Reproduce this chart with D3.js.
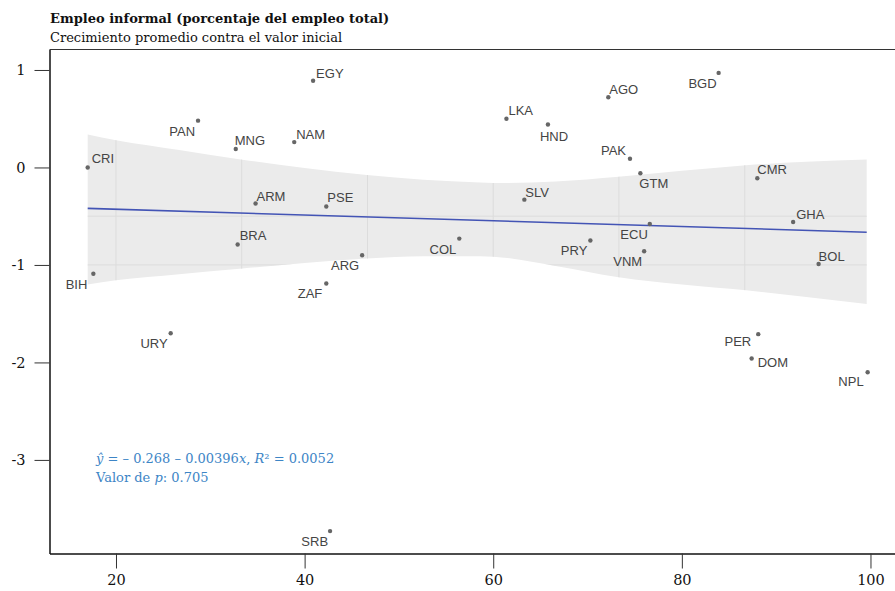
<!DOCTYPE html>
<html>
<head>
<meta charset="utf-8">
<script src="https://cdn.jsdelivr.net/npm/d3@7/dist/d3.min.js"></script>
<style>
body { margin: 0; background: #fff; }
</style>
</head>
<body>
<div id="chart"></div>
<script>
// countries, initial informal employment share (x) and average growth (y)
var codes   = ["EGY","PAN","MNG","NAM","CRI","ARM","PSE","BRA","COL","ARG","ZAF","BIH","URY","SRB",
               "LKA","AGO","BGD","HND","PAK","GTM","CMR","SLV","GHA","ECU","PRY","VNM","BOL","PER","DOM","NPL"];
var initial = [40.9, 28.7, 32.7, 38.9, 17.0, 34.8, 42.3, 32.9, 56.4, 46.1, 42.3, 17.6, 25.8, 42.7,
               61.4, 72.2, 83.9, 65.8, 74.5, 75.6, 88.0, 63.3, 91.8, 76.6, 70.3, 76.0, 94.5, 88.1, 87.4, 99.7];
var growth  = [0.89, 0.48, 0.19, 0.26, 0.00, -0.37, -0.40, -0.79, -0.73, -0.90, -1.19, -1.09, -1.70, -3.73,
               0.50, 0.72, 0.97, 0.44, 0.09, -0.06, -0.11, -0.33, -0.56, -0.58, -0.75, -0.86, -0.99, -1.71, -1.96, -2.10];

// fitted line and its confidence band
var fitX   = [17.0, 99.6];
var fitY   = [-0.42, -0.664];
var bandX  = [17.0, 20, 26.7, 33.4, 40, 46.6, 52.6, 58.6, 60, 66.6, 73.3, 80, 86.8, 93.2, 99.6];
var bandHi = [0.338, 0.280, 0.18, 0.08, -0.005, -0.078, -0.125, -0.154, -0.160, -0.145, -0.096, -0.035, 0.023, 0.058, 0.082];
var bandLo = [-1.20, -1.157, -1.095, -1.036, -0.98, -0.934, -0.912, -0.910, -0.915, -1.01, -1.125, -1.20, -1.259, -1.33, -1.40];
var gridX  = [20, 33.33, 46.67, 60, 73.33, 86.67];
var gridY  = [-0.5, -1];

var xTicks = [20, 40, 60, 80, 100];
var yTicks = [1, 0, -1, -2, -3];

var title = "Empleo informal (porcentaje del empleo total)";
var subtitle = "Crecimiento promedio contra el valor inicial";

// label placement around each dot: dx, dy, anchor
var labelPos = {
  EGY: [3, -3, "start"],  PAN: [-3, 15, "end"],   MNG: [-1, -4, "start"], NAM: [2, -3, "start"],
  CRI: [4, -4, "start"],  ARM: [1, -3, "start"],  PSE: [1, -4, "start"],  BRA: [2, -4, "start"],
  COL: [-3, 15, "end"],   ARG: [-3, 15, "end"],   ZAF: [-4, 15, "end"],   BIH: [-6, 15, "end"],
  URY: [-3, 15, "end"],   SRB: [-2, 15, "end"],   LKA: [2, -4, "start"],  AGO: [1, -3, "start"],
  BGD: [-2, 15, "end"],   HND: [-8, 16, "start"], PAK: [-4, -4, "end"],   GTM: [-1, 15, "start"],
  CMR: [0, -4, "start"],  SLV: [1, -3, "start"],  GHA: [3, -3, "start"],  ECU: [-2, 15, "end"],
  PRY: [-3, 14, "end"],   VNM: [-2, 15, "end"],   BOL: [0, -3, "start"],  PER: [-7, 12, "end"],
  DOM: [6, 8, "start"],   NPL: [-4, 14, "end"]
};

var W = 895, H = 591;
var plotL = 49.5, plotR = 895, plotT = 49.5, plotB = 553.5;

var svg = d3.select("#chart").append("svg")
    .attr("width", W)
    .attr("height", H)
    .style("font-family", "'DejaVu Serif', serif");

var x = d3.scaleLinear().domain([12.95, 102.6]).range([plotL, plotR]);
var y = d3.scaleLinear().domain([-3.96, 1.21]).range([plotB, plotT]);

// titles
svg.append("text")
    .attr("x", 50).attr("y", 23)
    .style("font-size", "13px").style("font-weight", "bold").attr("fill", "#111")
    .text(title);
svg.append("text")
    .attr("x", 50).attr("y", 42)
    .style("font-size", "13px").attr("fill", "#111")
    .text(subtitle);

// confidence band
var band = bandX.map(function(d, i) { return {x: d, hi: bandHi[i], lo: bandLo[i]}; });
var area = d3.area()
    .x(function(d) { return x(d.x); })
    .y0(function(d) { return y(d.lo); })
    .y1(function(d) { return y(d.hi); })
    .curve(d3.curveMonotoneX);

svg.append("clipPath").attr("id", "bandclip")
  .append("path").datum(band).attr("d", area);

svg.append("path").datum(band)
    .attr("d", area)
    .attr("fill", "#ebebeb");

var grid = svg.append("g").attr("clip-path", "url(#bandclip)")
    .attr("stroke", "#dcdcdc").attr("stroke-width", 1);
grid.selectAll(".gx").data(gridX).enter().append("line")
    .attr("x1", function(d) { return x(d); }).attr("x2", function(d) { return x(d); })
    .attr("y1", plotT).attr("y2", plotB);
grid.selectAll(".gy").data(gridY).enter().append("line")
    .attr("y1", function(d) { return y(d); }).attr("y2", function(d) { return y(d); })
    .attr("x1", plotL).attr("x2", plotR);

// fitted line
svg.append("path")
    .datum(fitX.map(function(d, i) { return [d, fitY[i]]; }))
    .attr("d", d3.line().x(function(d) { return x(d[0]); }).y(function(d) { return y(d[1]); }))
    .attr("fill", "none")
    .attr("stroke", "#4354b5")
    .attr("stroke-width", 1.6);

// points and labels
var pts = codes.map(function(c, i) { return {code: c, x: initial[i], y: growth[i]}; });

svg.append("g").selectAll("circle")
  .data(pts).enter().append("circle")
    .attr("cx", function(d) { return x(d.x); })
    .attr("cy", function(d) { return y(d.y); })
    .attr("r", 2.2)
    .attr("fill", "#666");

svg.append("g")
    .style("font-family", "'Liberation Sans', Arial, sans-serif")
    .style("font-size", "13px")
  .selectAll("text")
  .data(pts).enter().append("text")
    .attr("x", function(d) { return x(d.x) + labelPos[d.code][0]; })
    .attr("y", function(d) { return y(d.y) + labelPos[d.code][1]; })
    .attr("text-anchor", function(d) { return labelPos[d.code][2]; })
    .attr("fill", "#444")
    .text(function(d) { return d.code; });

// axes
var yAxis = svg.append("g")
    .attr("transform", "translate(" + plotL + ",0)")
    .call(d3.axisLeft(y).tickValues(yTicks).tickSize(15).tickSizeOuter(0).tickPadding(9)
      .tickFormat(function(d) { return d; }));
var xAxis = svg.append("g")
    .attr("transform", "translate(0," + plotB + ")")
    .call(d3.axisBottom(x).tickValues(xTicks).tickSize(15).tickSizeOuter(0).tickPadding(6));

[yAxis, xAxis].forEach(function(a) {
  a.selectAll("text").style("font-family", "'DejaVu Serif', serif").style("font-size", "14.5px").attr("fill", "#111");
  a.select(".domain").attr("stroke", "#111").attr("stroke-width", 1.5);
  a.selectAll(".tick line").attr("stroke", "#333");
});

svg.append("line")
    .attr("x1", plotL).attr("x2", plotR)
    .attr("y1", plotT).attr("y2", plotT)
    .attr("stroke", "#333").attr("stroke-width", 1.2);

// regression annotation
var eq = svg.append("g")
    .attr("fill", "#3d85c6")
    .style("font-size", "13px");
var t1 = eq.append("text").attr("x", 96).attr("y", 463);
t1.append("tspan").style("font-style", "italic").text("\u0177");
t1.append("tspan").text(" = \u2013 0.268 \u2013 0.00396");
t1.append("tspan").style("font-style", "italic").text("x");
t1.append("tspan").text(", ");
t1.append("tspan").style("font-style", "italic").text("R");
t1.append("tspan").text("\u00b2 = 0.0052");
var t2 = eq.append("text").attr("x", 96).attr("y", 482);
t2.append("tspan").text("Valor de ");
t2.append("tspan").style("font-style", "italic").text("p");
t2.append("tspan").text(": 0.705");
</script>
</body>
</html>
